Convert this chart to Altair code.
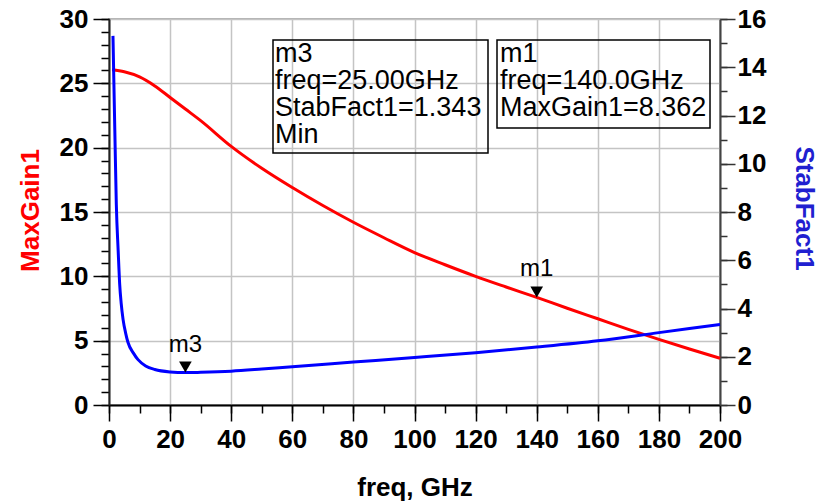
import altair as alt
import pandas as pd

# MaxGain1 trace (dB) against frequency (GHz)
gain_freq = [1, 5, 10, 15, 20, 25, 30, 40, 50, 60, 70, 80, 90, 100, 110, 120,
             130, 140, 150, 160, 170, 180, 190, 200]
gain_vals = [26.05, 25.9, 25.5, 24.8, 23.9, 23.0, 22.1, 20.1, 18.4, 16.9, 15.5,
             14.2, 13.0, 11.85, 10.9, 10.0, 9.17, 8.362, 7.52, 6.7, 5.88, 5.1,
             4.35, 3.63]

# StabFact1 trace against frequency (GHz)
stab_freq = [1.3, 1.9, 2.4, 3, 3.5, 4, 4.6, 5.5, 6.2, 8, 9.5, 12, 15, 20, 25,
             30, 40, 50, 60, 80, 100, 120, 140, 160, 180, 200]
stab_vals = [15.3, 11.4, 8.3, 6.4, 5.0, 4.2, 3.55, 2.95, 2.6, 2.15, 1.88, 1.62,
             1.47, 1.37, 1.343, 1.355, 1.40, 1.49, 1.59, 1.78, 1.97, 2.17,
             2.40, 2.66, 3.0, 3.34]

# marker readouts
m1_freq, m1_gain = 140.0, 8.362
m3_freq, m3_stab = 25.0, 1.343

# axis tick positions
x_major = list(range(0, 201, 20))
x_minor = list(range(0, 201, 10))
gain_major = list(range(0, 31, 5))
gain_minor = list(range(0, 31))
stab_major = list(range(0, 17, 2))
stab_minor = list(range(0, 17))

gain_df = pd.DataFrame({"freq": gain_freq, "MaxGain1": gain_vals})
stab_df = pd.DataFrame({"freq": stab_freq, "StabFact1": stab_vals})
m1_df = pd.DataFrame({"freq": [m1_freq], "MaxGain1": [m1_gain], "name": ["m1"]})
m3_df = pd.DataFrame({"freq": [m3_freq], "StabFact1": [m3_stab], "name": ["m3"]})
one_row = pd.DataFrame({"k": [0]})

FONT = "Liberation Sans"
W, H = 611, 386
RED = "#ff0000"
BLUE = "#0000ff"
GRID = "#c4c4c4"

label_style = dict(labelFont=FONT, labelFontSize=26, labelFontWeight="bold",
                   labelColor="black", labelFlush=False, labelOverlap=False)
title_style = dict(titleFont=FONT, titleFontSize=26, titleFontWeight="bold",
                   titleBaseline="middle")

# labelled major axes
x_axis = alt.Axis(
    title="freq, GHz", orient="bottom", values=x_major,
    tickSize=16, tickColor="black", tickWidth=1.5, grid=False,
    domainColor="black", domainWidth=2,
    labelPadding=5, titleColor="black", titleY=82,
    **label_style, **title_style,
)
left_axis = alt.Axis(
    title="MaxGain1", orient="left", values=gain_major,
    tickSize=16, tickColor="black", tickWidth=1.5, grid=False,
    domainColor="#222222", domainWidth=2,
    labelPadding=5, titleColor=RED, titleX=-79, titleY=191,
    **label_style, **title_style,
)
right_axis = alt.Axis(
    title="StabFact1", orient="right", values=stab_major,
    tickSize=15, tickColor="#333333", tickWidth=1.5,
    grid=False, domainColor="#444444", domainWidth=2,
    labelPadding=2, titleColor="#2020d0", titleX=83, titleY=189,
    **label_style, **title_style,
)

# unlabelled axes: grid at the major ticks, short minor ticks
x_grid_axis = alt.Axis(title=None, orient="bottom", values=x_major, labels=False,
                       domain=False, ticks=False, grid=True, gridColor=GRID,
                       gridWidth=1.5)
left_grid_axis = alt.Axis(title=None, orient="left", values=gain_major, labels=False,
                          domain=False, ticks=False, grid=True, gridColor=GRID,
                          gridWidth=1.5)
x_minor_axis = alt.Axis(title=None, orient="bottom", values=x_minor, labels=False,
                        domain=False, grid=False, tickSize=8, tickColor="black",
                        tickWidth=1.5)
left_minor_axis = alt.Axis(title=None, orient="left", values=gain_minor, labels=False,
                           domain=False, grid=False, tickSize=8, tickColor="black",
                           tickWidth=1.5)
right_minor_axis = alt.Axis(title=None, orient="right", values=stab_minor,
                            labels=False, domain=False, grid=False, tickSize=7,
                            tickColor="#333333", tickWidth=1.5)

x_scale = alt.Scale(domain=[0, 200], nice=False, zero=False)
gain_scale = alt.Scale(domain=[0, 30], nice=False)
stab_scale = alt.Scale(domain=[0, 16], nice=False)

x_enc = alt.X("freq:Q", scale=x_scale, axis=x_axis)
x_plain = alt.X("freq:Q", scale=x_scale, axis=None)
gain_y = alt.Y("MaxGain1:Q", scale=gain_scale, axis=left_axis)
stab_y = alt.Y("StabFact1:Q", scale=stab_scale, axis=right_axis)

grid_carrier = alt.Chart(gain_df).mark_point(opacity=0).encode(
    x=alt.X("freq:Q", scale=x_scale, axis=x_grid_axis),
    y=alt.Y("MaxGain1:Q", scale=gain_scale, axis=left_grid_axis),
)
minor_carrier = alt.Chart(gain_df).mark_point(opacity=0).encode(
    x=alt.X("freq:Q", scale=x_scale, axis=x_minor_axis),
    y=alt.Y("MaxGain1:Q", scale=gain_scale, axis=left_minor_axis),
)
right_minor_carrier = alt.Chart(stab_df).mark_point(opacity=0).encode(
    x=x_plain,
    y=alt.Y("StabFact1:Q", scale=stab_scale, axis=right_minor_axis),
)

gain_line = alt.Chart(gain_df).mark_line(
    color=RED, strokeWidth=3, interpolate="monotone"
).encode(x=x_enc, y=gain_y)

stab_line = alt.Chart(stab_df).mark_line(
    color=BLUE, strokeWidth=3, interpolate="monotone"
).encode(x=x_plain, y=stab_y)

tri = dict(shape="triangle-down", filled=True, color="black", size=160,
           yOffset=-5.5, opacity=1)
lbl = dict(font=FONT, fontSize=24, color="black", align="center",
           baseline="alphabetic", dy=-21)

m1_tri = alt.Chart(m1_df).mark_point(**tri).encode(x=x_enc, y=gain_y)
m1_lbl = alt.Chart(m1_df).mark_text(**lbl).encode(x=x_enc, y=gain_y, text="name:N")
m3_tri = alt.Chart(m3_df).mark_point(**tri).encode(x=x_plain, y=stab_y)
m3_lbl = alt.Chart(m3_df).mark_text(**lbl).encode(x=x_plain, y=stab_y, text="name:N")

# marker readout boxes
m3_lines = ["m3", f"freq={m3_freq:.2f}GHz", f"StabFact1={m3_stab:.3f}", "Min"]
m1_lines = ["m1", f"freq={m1_freq:.1f}GHz", f"MaxGain1={m1_gain:.3f}"]

box_style = dict(fillOpacity=0, stroke="black", strokeWidth=1.5)
txt_style = dict(font=FONT, fontSize=27, color="black", align="left",
                 baseline="alphabetic", lineHeight=27)

m3_box = alt.Chart(one_row).mark_rect(**box_style).encode(
    x=alt.value(164), x2=alt.value(379), y=alt.value(21), y2=alt.value(134))
m3_txt = alt.Chart(one_row).mark_text(**txt_style).encode(
    x=alt.value(166), y=alt.value(43), text=alt.value(m3_lines))
m1_box = alt.Chart(one_row).mark_rect(**box_style).encode(
    x=alt.value(388), x2=alt.value(601), y=alt.value(21), y2=alt.value(109))
m1_txt = alt.Chart(one_row).mark_text(**txt_style).encode(
    x=alt.value(391), y=alt.value(43), text=alt.value(m1_lines))

gain_layer = alt.layer(gain_line, m1_tri, m1_lbl, m3_box, m3_txt, m1_box, m1_txt)
stab_layer = alt.layer(stab_line, m3_tri, m3_lbl)

chart = alt.layer(
    grid_carrier, minor_carrier, right_minor_carrier, gain_layer, stab_layer
).resolve_scale(
    x="independent", y="independent"
).resolve_axis(
    x="independent", y="independent"
).properties(
    width=W, height=H,
    autosize=alt.AutoSizeParams(type="none"),
    padding={"left": 109, "top": 19, "right": 97, "bottom": 96},
    background="white",
).configure_view(stroke="#999999", strokeWidth=1.5)

chart.save("out.html", embed_options={"renderer": "svg", "actions": False})
